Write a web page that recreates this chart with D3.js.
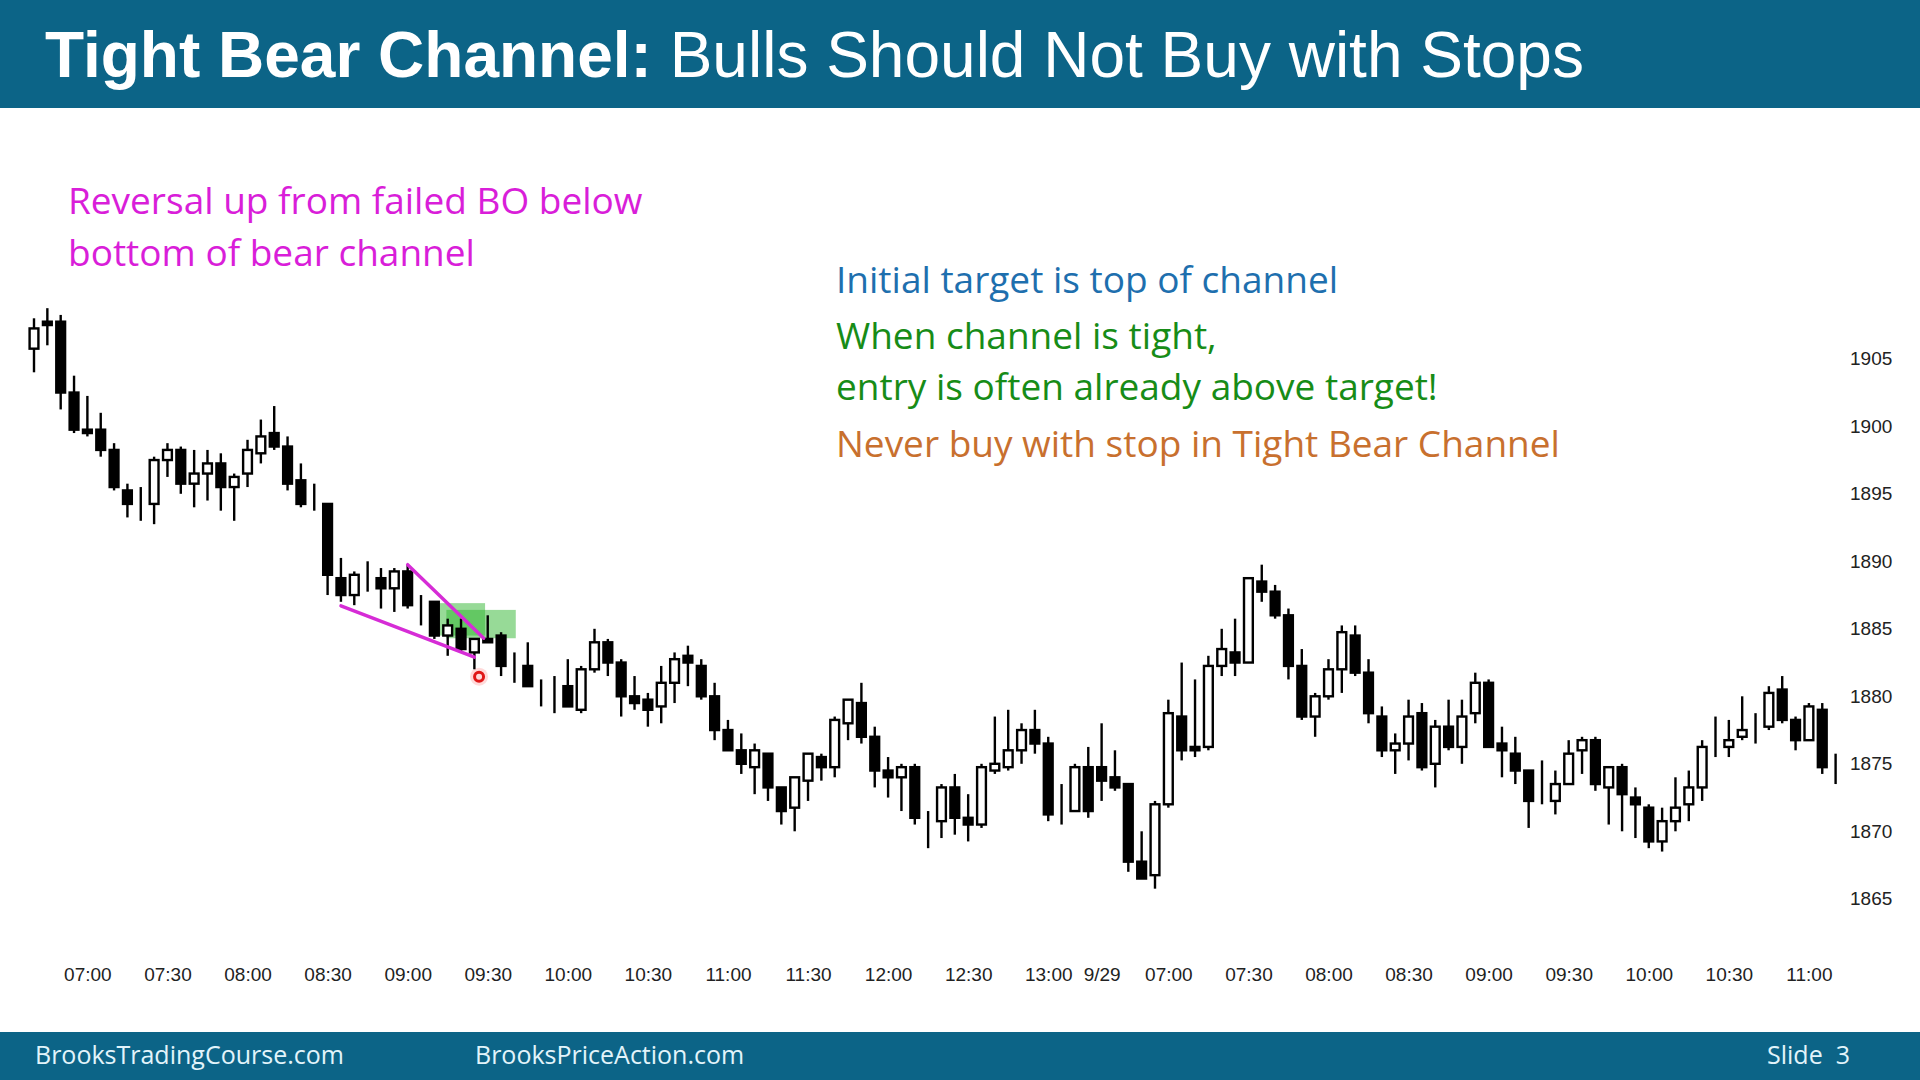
<!DOCTYPE html>
<meta charset="utf-8">
<style type="text/css">
body {
  margin: 0;
  background: #fff;
}

svg {
  display: block;
  font-family: "Liberation Sans", Arial, sans-serif;
}

.axis text {
  font-size: 19px;
  fill: #222;
}

.axis path,
.axis line {
  display: none;
}

.note {
  font-family: "Open Sans", sans-serif;
  font-size: 37px;
}

.footer text {
  font-family: "Open Sans", sans-serif;
  font-size: 25px;
  fill: #e2f4fb;
  white-space: pre;
}
</style>
<body></body>

<script src="https://cdn.jsdelivr.net/npm/d3@7"></script>
<script>
// two sessions of 5 minute bars
var day1Start = "06:40", day1Bars = 80;
var day2Start = "06:35", day2Bars = 56;
var day2Label = "9/29";

var open = [
  1905.75, 1907.75, 1907.75, 1902.5, 1899.75, 1899.75, 1898.25, 1895.25, 1894.25, 1894.25,
  1897.5, 1898.25, 1895.75, 1896.5, 1897.25, 1895.5, 1896.5, 1898.0, 1899.5, 1898.5,
  1896.0, 1894.25, 1894.25, 1888.75, 1887.5, 1889.0, 1888.75, 1888.0, 1889.25, 1886.75,
  1887.0, 1884.5, 1885.0, 1883.25, 1884.25, 1884.5, 1882.25, 1882.25, 1880.75, 1880.75,
  1880.75, 1879.0, 1882.0, 1884.0, 1882.5, 1880.0, 1879.75, 1879.25, 1881.0, 1883.0,
  1882.25, 1880.0, 1877.5, 1876.0, 1874.75, 1875.75, 1873.25, 1871.75, 1873.75, 1875.5,
  1874.75, 1878.0, 1879.5, 1877.0, 1874.5, 1874.0, 1874.75, 1870.75, 1870.75, 1873.25,
  1871.0, 1870.5, 1874.5, 1874.75, 1876.0, 1877.5, 1876.5, 1871.25, 1871.5, 1874.75,
  1874.75, 1874.0, 1873.5, 1867.75, 1866.75, 1872.0, 1878.5, 1876.25, 1876.25, 1882.25,
  1883.25, 1882.5, 1888.5, 1887.75, 1886.0, 1882.25, 1878.5, 1880.0, 1882.0, 1884.5,
  1881.75, 1878.5, 1876.0, 1876.5, 1878.75, 1875.0, 1877.75, 1876.25, 1878.75, 1881.0,
  1876.5, 1875.75, 1874.5, 1872.25, 1872.25, 1873.5, 1876.0, 1876.75, 1873.25, 1874.75,
  1872.5, 1871.75, 1869.25, 1870.75, 1872.0, 1873.25, 1876.25, 1876.25, 1877.0, 1877.5,
  1877.75, 1880.5, 1878.25, 1876.75, 1879.0, 1875.0
];
var high = [
  1908.0, 1908.75, 1908.25, 1903.75, 1902.25, 1901.0, 1898.75, 1895.75, 1895.5, 1897.75,
  1898.75, 1898.5, 1898.25, 1898.25, 1898.0, 1896.5, 1899.0, 1900.5, 1901.5, 1899.25,
  1897.25, 1895.75, 1894.25, 1890.25, 1889.25, 1890.0, 1889.5, 1889.5, 1889.75, 1887.5,
  1887.0, 1885.75, 1885.75, 1884.25, 1886.0, 1884.75, 1883.25, 1884.0, 1881.25, 1881.5,
  1882.75, 1882.25, 1885.0, 1884.25, 1882.75, 1881.5, 1880.25, 1882.25, 1883.25, 1883.75,
  1882.75, 1881.0, 1878.25, 1877.25, 1876.5, 1875.75, 1873.25, 1874.0, 1875.75, 1875.75,
  1878.5, 1879.75, 1881.0, 1877.75, 1875.5, 1875.0, 1875.0, 1871.5, 1873.5, 1874.25,
  1872.75, 1875.0, 1878.5, 1879.0, 1878.0, 1879.0, 1877.0, 1873.5, 1875.0, 1876.25,
  1878.0, 1876.0, 1873.5, 1870.0, 1872.25, 1879.75, 1882.5, 1881.25, 1883.0, 1885.0,
  1885.75, 1888.75, 1889.75, 1888.25, 1886.5, 1883.5, 1880.25, 1882.75, 1885.25, 1885.25,
  1882.75, 1879.25, 1877.25, 1879.75, 1879.5, 1878.25, 1879.75, 1879.75, 1881.75, 1881.25,
  1877.75, 1877.0, 1874.5, 1875.25, 1874.5, 1876.75, 1877.0, 1877.0, 1874.75, 1875.0,
  1873.25, 1872.0, 1871.75, 1874.0, 1874.5, 1876.75, 1878.5, 1878.25, 1880.0, 1878.75,
  1880.75, 1881.5, 1878.5, 1879.5, 1879.5, 1875.75
];
var low = [
  1904.0, 1906.0, 1901.25, 1899.5, 1899.25, 1897.75, 1895.25, 1893.25, 1893.0, 1892.75,
  1896.25, 1895.0, 1894.0, 1894.5, 1893.75, 1893.0, 1895.5, 1897.25, 1898.25, 1895.25,
  1894.0, 1893.75, 1887.5, 1887.0, 1886.75, 1887.75, 1886.5, 1886.25, 1886.5, 1885.25,
  1884.25, 1883.0, 1883.25, 1882.0, 1884.0, 1881.5, 1881.0, 1880.75, 1879.25, 1878.75,
  1879.25, 1878.75, 1881.75, 1881.5, 1878.5, 1879.0, 1877.75, 1878.0, 1879.5, 1880.75,
  1879.75, 1876.75, 1876.0, 1874.25, 1872.75, 1872.25, 1870.5, 1870.0, 1872.25, 1873.75,
  1874.0, 1876.75, 1876.5, 1873.25, 1872.5, 1871.5, 1870.5, 1868.75, 1869.5, 1869.75,
  1869.25, 1870.25, 1874.25, 1874.5, 1875.0, 1875.75, 1870.75, 1870.5, 1871.5, 1871.0,
  1872.25, 1873.0, 1867.0, 1866.5, 1865.75, 1871.75, 1875.25, 1875.5, 1876.0, 1881.5,
  1881.5, 1882.5, 1887.0, 1885.75, 1881.25, 1878.25, 1877.0, 1879.75, 1880.25, 1881.5,
  1878.0, 1875.5, 1874.25, 1875.25, 1874.5, 1873.25, 1876.0, 1875.0, 1878.0, 1876.25,
  1874.0, 1873.5, 1870.25, 1872.0, 1871.25, 1873.5, 1874.25, 1873.0, 1870.5, 1870.0,
  1869.5, 1868.75, 1868.5, 1870.0, 1870.75, 1872.25, 1875.5, 1875.5, 1876.75, 1876.5,
  1877.5, 1878.0, 1876.0, 1876.75, 1874.25, 1873.5
];
var close = [
  1907.25, 1907.5, 1902.5, 1899.75, 1899.5, 1898.25, 1895.5, 1894.25, 1894.25, 1897.5,
  1898.25, 1895.75, 1896.5, 1897.25, 1895.5, 1896.25, 1898.25, 1899.25, 1898.5, 1895.75,
  1894.25, 1894.25, 1889.0, 1887.5, 1889.0, 1889.0, 1888.0, 1889.25, 1886.75, 1886.75,
  1884.5, 1885.25, 1883.5, 1884.25, 1884.0, 1882.25, 1882.25, 1880.75, 1880.75, 1880.75,
  1879.25, 1882.0, 1884.0, 1882.5, 1880.0, 1879.5, 1879.0, 1881.0, 1882.75, 1882.5,
  1880.0, 1877.5, 1876.0, 1875.0, 1876.0, 1873.25, 1871.5, 1874.0, 1875.75, 1874.75,
  1878.25, 1879.75, 1877.0, 1874.5, 1874.0, 1874.75, 1871.0, 1870.75, 1873.25, 1871.0,
  1870.5, 1874.75, 1875.0, 1876.0, 1877.5, 1876.5, 1871.25, 1871.25, 1874.75, 1871.5,
  1873.75, 1873.25, 1867.75, 1866.5, 1872.0, 1878.75, 1876.0, 1876.0, 1882.25, 1883.5,
  1882.5, 1888.75, 1887.75, 1886.0, 1882.25, 1878.5, 1880.0, 1882.0, 1884.75, 1881.75,
  1878.75, 1876.0, 1876.5, 1878.5, 1874.75, 1877.75, 1876.25, 1878.5, 1881.0, 1876.25,
  1876.0, 1874.5, 1872.25, 1872.25, 1873.5, 1875.75, 1876.75, 1873.5, 1874.75, 1872.75,
  1872.0, 1869.25, 1870.75, 1871.75, 1873.25, 1876.25, 1876.25, 1876.75, 1877.5, 1877.5,
  1880.25, 1878.25, 1876.75, 1879.25, 1874.75, 1875.0
];

var priceTicks = [1865, 1870, 1875, 1880, 1885, 1890, 1895, 1900, 1905];

// annotations, in bar index / price units
var wedgeLower = [[23, 1886.7], [33, 1882.9]];
var wedgeUpper = [[28, 1889.75], [33.7, 1884.3]];
var entryZones = [
  { from: 29.9, to: 33.8, top: 1886.9, bottom: 1884.5 },
  { from: 30.9, to: 36.1, top: 1886.4, bottom: 1884.3 }
];
var signalDot = [33.35, 1881.45];

var title = ["Tight Bear Channel:", " Bulls Should Not Buy with Stops"];
var leftNote = ["Reversal up from failed BO below", "bottom of bear channel"];
var rightNotes = [
  { text: "Initial target is top of channel", color: "#1e6fae" },
  { text: "When channel is tight,", color: "#178c17" },
  { text: "entry is often already above target!", color: "#178c17" },
  { text: "Never buy with stop in Tight Bear Channel", color: "#c8702e" }
];
var footer = ["BrooksTradingCourse.com", "BrooksPriceAction.com", "Slide  3"];

var width = 1920, height = 1080;

var bars = open.map(function(o, i) {
  return { i: i, o: o, h: high[i], l: low[i], c: close[i] };
});

// bar times -> tick labels
function toMin(s) { var p = s.split(":"); return +p[0] * 60 + +p[1]; }
function fmt(m) { return d3.format("02")(Math.floor(m / 60)) + ":" + d3.format("02")(m % 60); }
var tickIdx = [], tickText = [];
bars.forEach(function(d, i) {
  var day2 = i >= day1Bars;
  var m = day2 ? toMin(day2Start) + (i - day1Bars) * 5 : toMin(day1Start) + i * 5;
  if (i === day1Bars) { tickIdx.push(i); tickText.push(day2Label); }
  else if (m % 30 === 0) { tickIdx.push(i); tickText.push(fmt(m)); }
});

var svg = d3.select("body")
  .append("svg")
    .attr("width", width)
    .attr("height", height);

var x = d3.scaleLinear()
  .domain([0, bars.length - 1])
  .range([34, 1835.6]);

var y = d3.scaleLinear()
  .domain([1865, 1905])
  .range([898.8, 358.8]);

var step = x(1) - x(0);
var bodyW = step * 0.66;

// header and footer bands
svg.append("rect")
  .attr("width", width)
  .attr("height", 108)
  .attr("fill", "#0c6487");

svg.append("text")
  .attr("x", 45)
  .attr("y", 77)
  .attr("fill", "#fff")
  .style("font-size", "64px")
  .selectAll("tspan")
  .data(title)
  .enter().append("tspan")
    .style("font-weight", function(d, i) { return i === 0 ? "bold" : "normal"; })
    .text(function(d) { return d; });

var foot = svg.append("g").attr("class", "footer");
foot.append("rect")
  .attr("y", 1032)
  .attr("width", width)
  .attr("height", 48)
  .attr("fill", "#0c6487");
foot.selectAll("text")
  .data(footer)
  .enter().append("text")
    .attr("x", function(d, i) { return [35, 475, 1767][i]; })
    .attr("y", 1064)
    .text(function(d) { return d; });

// axes
svg.append("g")
  .attr("class", "axis")
  .attr("transform", "translate(0,967)")
  .call(d3.axisBottom(x)
    .tickValues(tickIdx)
    .tickSize(0)
    .tickPadding(0)
    .tickFormat(function(d) { return tickText[tickIdx.indexOf(d)]; }));

svg.append("g")
  .attr("class", "axis")
  .attr("transform", "translate(1850,0)")
  .call(d3.axisRight(y)
    .tickValues(priceTicks)
    .tickSize(0)
    .tickPadding(0)
    .tickFormat(d3.format("d")));

// entry zones (behind the bars)
svg.selectAll("rect.zone")
  .data(entryZones)
  .enter().append("rect")
    .attr("class", "zone")
    .attr("x", function(d) { return x(d.from); })
    .attr("y", function(d) { return y(d.top); })
    .attr("width", function(d) { return x(d.to) - x(d.from); })
    .attr("height", function(d) { return y(d.bottom) - y(d.top); })
    .attr("fill", "#2fb52f")
    .attr("fill-opacity", 0.5);

// candles
var candle = svg.selectAll("g.candle")
  .data(bars)
  .enter().append("g")
    .attr("class", "candle")
    .attr("transform", function(d) { return "translate(" + x(d.i) + ",0)"; });

candle.append("line")
  .attr("y1", function(d) { return y(d.h); })
  .attr("y2", function(d) { return y(d.l); })
  .attr("stroke", "#000")
  .attr("stroke-width", 2.4);

candle.append("rect")
  .attr("x", -bodyW / 2)
  .attr("width", bodyW)
  .attr("y", function(d) { return y(Math.max(d.o, d.c)); })
  .attr("height", function(d) { return Math.abs(y(d.o) - y(d.c)); })
  .attr("fill", function(d) { return d.c > d.o ? "#fff" : "#000"; })
  .attr("stroke", "#000")
  .attr("stroke-width", 2.4);

// wedge lines
var line = d3.line()
  .x(function(d) { return x(d[0]); })
  .y(function(d) { return y(d[1]); });

svg.selectAll("path.wedge")
  .data([wedgeLower, wedgeUpper])
  .enter().append("path")
    .attr("class", "wedge")
    .attr("d", line)
    .attr("fill", "none")
    .attr("stroke", "#d62cd6")
    .attr("stroke-width", 3.4)
    .attr("stroke-linecap", "round");

// signal bar marker
svg.append("circle")
  .attr("cx", x(signalDot[0]))
  .attr("cy", y(signalDot[1]))
  .attr("r", 9)
  .attr("fill", "#ff3030")
  .attr("fill-opacity", 0.18);
svg.append("circle")
  .attr("cx", x(signalDot[0]))
  .attr("cy", y(signalDot[1]))
  .attr("r", 4.5)
  .attr("fill", "none")
  .attr("stroke", "#e01818")
  .attr("stroke-width", 3);

// notes
svg.append("text")
  .attr("class", "note")
  .attr("fill", "#d91ed9")
  .selectAll("tspan")
  .data(leftNote)
  .enter().append("tspan")
    .attr("x", 68)
    .attr("y", function(d, i) { return 214 + i * 51.5; })
    .text(function(d) { return d; });

svg.selectAll("text.right")
  .data(rightNotes)
  .enter().append("text")
    .attr("class", "note right")
    .attr("x", 836)
    .attr("y", function(d, i) { return [293, 349, 400, 457][i]; })
    .attr("fill", function(d) { return d.color; })
    .text(function(d) { return d.text; });
</script>
